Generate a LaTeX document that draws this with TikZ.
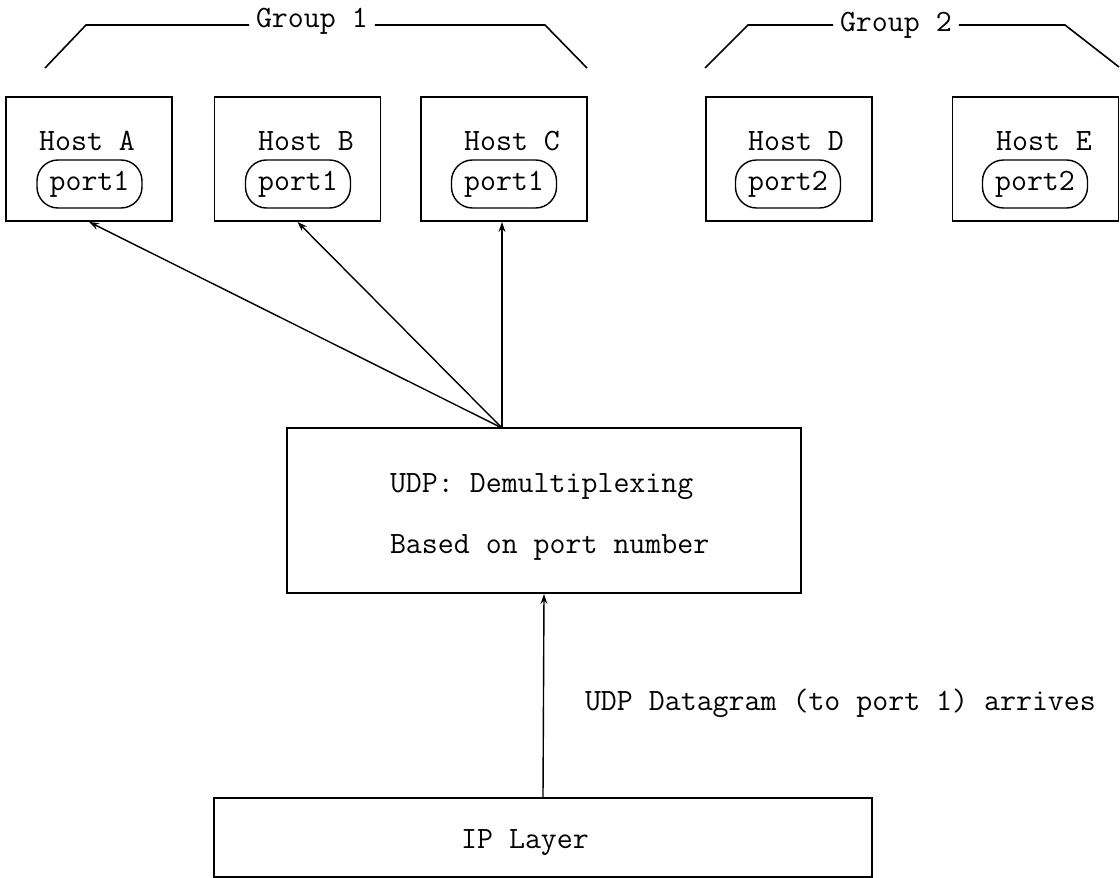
\documentclass[tikz,border=0pt]{standalone}
\usetikzlibrary{arrows.meta}
\tikzset{
  lbl/.style={inner sep=0pt,outer sep=0pt,font=\ttfamily\fontsize{15.5}{18}\selectfont},
  grplbl/.style={lbl,inner xsep=3.5pt},
  hostbox/.style={draw,line width=0.9pt,minimum width=83pt,minimum height=62pt,inner sep=0pt},
  portbox/.style={lbl,draw,line width=0.7pt,rounded corners=10.5pt,minimum width=52.5pt,minimum height=24pt},
  layerbox/.style={draw,line width=0.9pt,inner sep=0pt},
  bracket/.style={line width=0.8pt},
  feed/.style={-{Stealth[length=5pt,width=3.4pt]},line width=0.7pt}
}
\begin{document}
\begin{tikzpicture}[x=.5pt,y=-.5pt]
\path[use as bounding box] (0,0) rectangle (1120,878);
\node[grplbl,anchor=base west] (grp1) at (249,27) {Group 1};
\coordinate (g1a) at (45,68);
\coordinate (g1b) at (86,25);
\coordinate (g1c) at (545,25);
\coordinate (g1d) at (587,68);
\draw[bracket] (g1a) -- (g1b) -- (g1b -| grp1.west);
\draw[bracket] (g1c -| grp1.east) -- (g1c) -- (g1d);
\node[grplbl,anchor=base west] (grp2) at (833,32) {Group 2};
\coordinate (g2a) at (705,68);
\coordinate (g2b) at (748,25);
\coordinate (g2c) at (1065,25);
\coordinate (g2d) at (1119,67);
\draw[bracket] (g2a) -- (g2b) -- (g2b -| grp2.west);
\draw[bracket] (g2c -| grp2.east) -- (g2c) -- (g2d);
\node[hostbox] (hostA) at (89,159) {};
\node[lbl,anchor=base] (nameA) at (87,150) {Host A};
\node[portbox] (portA) at (89.5,184) {port1};
\node[hostbox] (hostB) at (297.5,159) {};
\node[lbl,anchor=base] (nameB) at (306,150) {Host B};
\node[portbox] (portB) at (298,184) {port1};
\node[hostbox] (hostC) at (504,159) {};
\node[lbl,anchor=base] (nameC) at (512,150) {Host C};
\node[portbox] (portC) at (504,184) {port1};
\node[hostbox] (hostD) at (789,159) {};
\node[lbl,anchor=base] (nameD) at (796,150) {Host D};
\node[portbox] (portD) at (788,184) {port2};
\node[hostbox] (hostE) at (1035.5,159) {};
\node[lbl,anchor=base] (nameE) at (1044,150) {Host E};
\node[portbox] (portE) at (1035,184) {port2};
\node[layerbox,minimum width=257pt,minimum height=82.5pt] (udp) at (544,510.5) {};
\node[lbl,anchor=base west] (udpTop) at (390,492) {UDP: Demultiplexing};
\node[lbl,anchor=base west] (udpBot) at (390,553) {Based on port number};
\node[layerbox,minimum width=329pt,minimum height=39.5pt] (ip) at (543,837.5) {};
\node[lbl,anchor=base] (ipTxt) at (525,848) {IP Layer};
\coordinate (fan) at (502,428);
\draw[feed] (fan) -- (hostA.south);
\draw[feed] (fan) -- (hostB.south);
\draw[feed] (fan) -- (fan |- hostC.south);
\draw[feed] (ip.north) -- (udp.south);
\node[lbl,anchor=base west] (dgram) at (585,710) {UDP Datagram (to port 1) arrives};
\end{tikzpicture}
\end{document}
